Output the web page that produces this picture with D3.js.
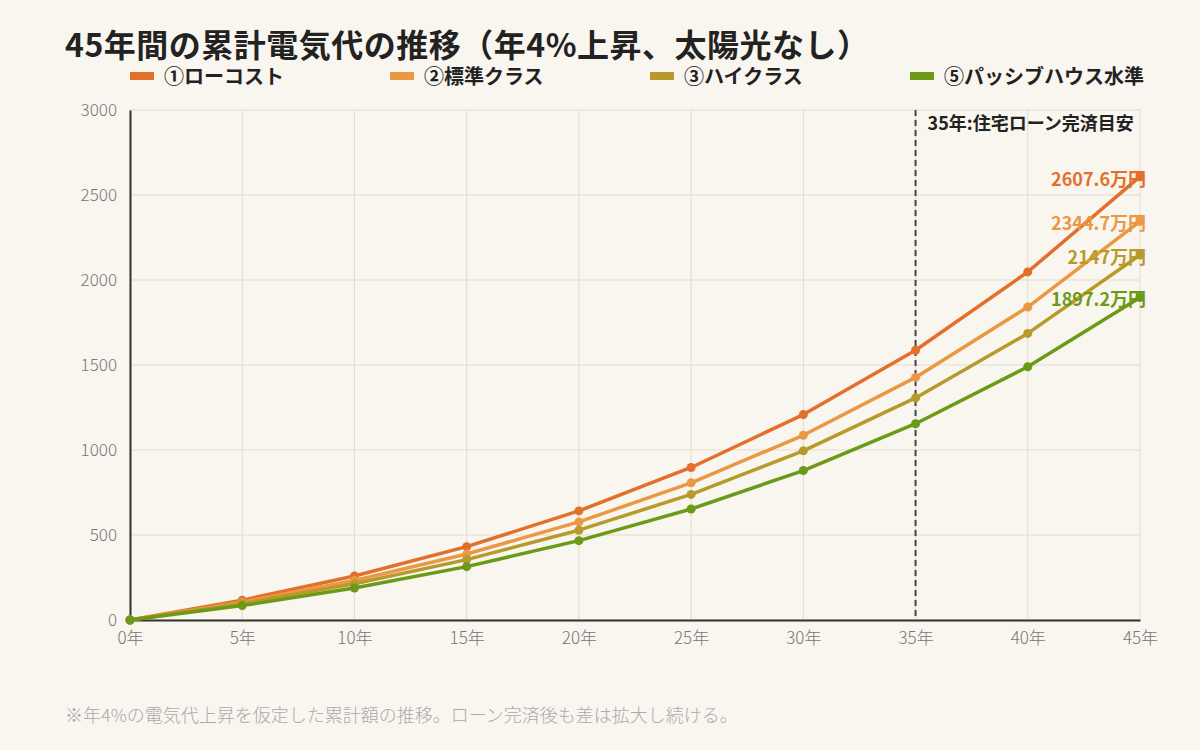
<!DOCTYPE html>
<html><head><meta charset="utf-8">
<script src="https://cdn.jsdelivr.net/npm/d3@7/dist/d3.min.js"></script>
<style>
body{margin:0;background:#f9f5ef;font-family:"Noto Sans CJK JP","Noto Sans",sans-serif;}
</style></head><body>
<svg id="c" width="1200" height="750"></svg>
<script>
const years = [0,5,10,15,20,25,30,35,40,45];
const seriesNames = ["①ローコスト","②標準クラス","③ハイクラス","⑤パッシブハウス水準"];
const lowCost  = [0,116.7,258.7,431.4,641.6,897.3,1208.4,1586.9,2047.4,2607.6];
const standard = [0,104.9,232.6,387.9,576.9,806.8,1086.5,1426.9,1841.0,2344.7];
const highClass= [0,96.1,213.0,355.2,528.2,738.8,994.9,1306.5,1685.7,2147.0];
const passive  = [0,84.9,188.2,313.9,466.8,652.8,879.2,1154.6,1489.6,1897.2];
const endLabels = ["2607.6万円","2344.7万円","2147万円","1897.2万円"];
const yTicks = [0,500,1000,1500,2000,2500,3000];
const colors = ["#e2702b","#ea9843","#b89a2c","#6b9b16"];
const allSeries = [lowCost,standard,highClass,passive];

const svg = d3.select("#c");
svg.append("rect").attr("width",1200).attr("height",750).attr("fill","#f9f5ef");

const x = d3.scaleLinear().domain([0,45]).range([130,1140]);
const y = d3.scaleLinear().domain([0,3000]).range([620,110]);

// title
svg.append("text").attr("x",65).attr("y",57).attr("font-size",32).attr("font-weight","bold")
  .attr("fill","#222").attr("letter-spacing",0.5)
  .text("45年間の累計電気代の推移（年4%上昇、太陽光なし）");

// legend
seriesNames.forEach((n,i)=>{
  const lx = 130 + i*260;
  svg.append("rect").attr("x",lx).attr("y",72).attr("width",24).attr("height",8).attr("fill",colors[i]);
  svg.append("text").attr("x",lx+34).attr("y",84).attr("font-size",20).attr("font-weight","bold")
    .attr("fill","#222").text(n);
});

// grid
const g = svg.append("g");
g.selectAll("line.h").data(yTicks).join("line")
  .attr("x1",130).attr("x2",1140).attr("y1",d=>y(d)).attr("y2",d=>y(d))
  .attr("stroke","#e3dccd").attr("stroke-width",1);
g.selectAll("line.v").data(years).join("line")
  .attr("y1",110).attr("y2",620).attr("x1",d=>x(d)).attr("x2",d=>x(d))
  .attr("stroke","#e3dccd").attr("stroke-width",1);

// axes
const yAxis = svg.append("g").attr("transform","translate(130,0)")
  .call(d3.axisLeft(y).tickValues(yTicks).tickSize(0).tickPadding(13).tickFormat(d3.format("d")));
const xAxis = svg.append("g").attr("transform","translate(0,620)")
  .call(d3.axisBottom(x).tickValues(years).tickSize(0).tickPadding(10).tickFormat(d=>d+"年"));
[yAxis,xAxis].forEach(a=>{
  a.select(".domain").attr("stroke","#333").attr("stroke-width",2);
  a.selectAll("text").attr("font-size",17).attr("fill","#777").attr("font-weight",300)
   .attr("font-family","'Noto Sans CJK JP',sans-serif");
});
xAxis.selectAll("text").attr("dy","0.85em");

// dashed 35年 line
svg.append("line").attr("x1",x(35)).attr("x2",x(35)).attr("y1",110).attr("y2",620)
  .attr("stroke","#444").attr("stroke-width",2).attr("stroke-dasharray","6,4");
svg.append("text").attr("x",x(35)+12).attr("y",130).attr("font-size",18).attr("font-weight","bold")
  .attr("fill","#222").text("35年:住宅ローン完済目安");

// lines
const line = d3.line().x((d,i)=>x(years[i])).y(d=>y(d));
allSeries.forEach((s,i)=>{
  svg.append("path").datum(s).attr("d",line).attr("fill","none")
    .attr("stroke",colors[i]).attr("stroke-width",3.5).attr("stroke-linejoin","round");
  svg.selectAll(null).data(s).join("circle")
    .attr("cx",(d,j)=>x(years[j])).attr("cy",d=>y(d)).attr("r",4.5).attr("fill",colors[i]);
  svg.append("text").attr("x",1146).attr("y",y(s[s.length-1])+9)
    .attr("text-anchor","end").attr("font-size",18).attr("font-weight","bold")
    .attr("fill",colors[i]).text(endLabels[i]);
});

// footnote
svg.append("text").attr("x",65).attr("y",722).attr("font-size",18).attr("fill","#aaa").attr("font-weight",300)
  .text("※年4%の電気代上昇を仮定した累計額の推移。ローン完済後も差は拡大し続ける。");
</script>
</body></html>
